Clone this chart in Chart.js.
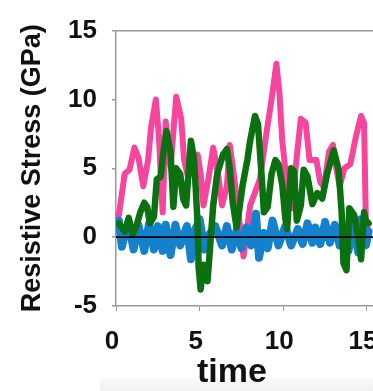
<!doctype html>
<html lang="en">
  <head>
    <meta charset="utf-8">
    <title>Resistive Stress vs time</title>
    <script src="https://cdn.jsdelivr.net/npm/chart.js"></script>
    <style>
      body { margin: 0; background: #fff; overflow: hidden; }
      .wrap { position: relative; width: 373px; height: 391px; overflow: hidden; }
      .wrap canvas { position: absolute; left: 0; top: 0; }
      .x-title { position: absolute; left: 232px; top: 370px; transform: translate(-50%, -50%); font: bold 34px "Liberation Sans", Arial, sans-serif; color: #111; }
      .floor { position: absolute; left: 100px; top: 378px; width: 273px; height: 13px; background: linear-gradient(#fafafa, #f0f0f0); }
    </style>
  </head>
  <body>
    <div class="wrap">
      <div class="floor"></div>
      <canvas id="stressChart" width="480" height="391"></canvas>
      <div class="x-title">time</div>
    </div>
    <script>
      // values (time, GPa)
      const pinkT = [0.06, 0.17, 0.52, 0.81, 1.10, 1.34, 1.63, 1.92, 2.09, 2.38, 2.56, 2.79, 2.97, 3.26, 3.60, 3.90, 4.07, 4.30, 4.65, 4.88, 5.06, 5.23, 5.52, 5.81, 6.10, 6.34, 6.63, 6.80, 6.98, 7.27, 7.62, 8.02, 8.60, 9.01, 9.30, 9.59, 9.77, 9.94, 10.23, 10.52, 10.76, 11.05, 11.34, 11.57, 11.98, 12.21, 12.44, 12.73, 12.97, 13.14, 13.37, 13.66, 14.01, 14.36, 14.65, 14.83, 14.94, 15.1];
      const pinkV = [1.2, 1.6, 4.6, 4.9, 6.5, 5.8, 3.7, 5.6, 7.9, 10.0, 7.4, 1.8, 8.4, 5.1, 10.2, 8.6, 5.6, 4.4, 5.1, 6.0, 4.6, 2.3, 4.2, 6.5, 4.6, 2.3, 3.7, 6.7, 5.1, 2.3, -1.4, 2.3, 4.2, 7.7, 10.0, 12.6, 10.5, 7.0, 3.7, 2.1, 5.3, 8.6, 8.3, 5.6, 5.6, 4.0, 3.6, 6.2, 6.7, 5.2, 3.7, 5.0, 5.3, 7.4, 8.8, 8.3, 1.0, 0.5];

      const greenT = [0.17, 0.52, 0.76, 0.99, 1.22, 1.45, 1.69, 1.86, 2.03, 2.27, 2.44, 2.67, 2.85, 3.02, 3.26, 3.43, 3.60, 3.84, 4.01, 4.19, 4.48, 4.65, 4.77, 4.88, 4.94, 5.06, 5.23, 5.47, 5.64, 5.81, 6.05, 6.40, 6.63, 6.80, 6.98, 7.21, 7.38, 7.56, 7.85, 8.02, 8.31, 8.49, 8.72, 8.84, 9.07, 9.30, 9.53, 9.71, 9.94, 10.12, 10.23, 10.47, 10.64, 10.81, 11.05, 11.22, 11.45, 11.74, 12.03, 12.33, 12.62, 13.02, 13.31, 13.49, 13.60, 13.78, 13.95, 14.24, 14.48, 14.65, 14.83, 14.94, 15.1];
      const greenV = [1.0, 0.4, 1.4, 0.2, 0.8, 1.8, 2.5, 2.2, 1.0, 1.5, 4.2, 4.4, 6.3, 7.7, 6.2, 2.2, 5.0, 4.6, 2.8, 2.3, 7.0, 5.8, 3.5, 0.9, -2.2, -3.8, -2.0, -3.2, -0.5, 2.3, 4.6, 6.0, 6.4, 5.0, 2.5, 0.7, 2.1, 3.7, 5.6, 7.0, 8.8, 8.2, 4.2, 1.8, 2.2, 4.6, 5.6, 5.3, 3.8, 1.4, 0.6, 5.0, 4.8, 1.2, 2.3, 4.9, 4.4, 2.4, 3.2, 2.8, 4.6, 6.3, 4.9, 1.8, -1.9, -2.4, 2.1, 1.6, 0.0, -1.6, 1.8, 1.2, 1.0];

      const blueT = [0, 0.17, 0.35, 0.58, 0.76, 1.05, 1.34, 1.69, 1.98, 2.27, 2.50, 2.79, 2.97, 3.26, 3.55, 3.84, 4.24, 4.48, 4.71, 5.00, 5.29, 5.58, 5.93, 6.34, 6.63, 6.92, 7.21, 7.50, 7.79, 8.08, 8.37, 8.55, 8.84, 9.07, 9.36, 9.71, 10.12, 10.47, 10.87, 11.16, 11.45, 11.74, 11.92, 12.21, 12.50, 12.79, 13.08, 13.37, 13.66, 13.90, 14.19, 14.48, 14.65, 14.94, 15.1];
      const blueV = [1.0, 1.2, -0.7, 0.5, 1.0, -0.9, 0.9, -1.0, 1.0, -0.9, 0.8, -1.0, 0.9, -1.3, 0.9, -0.6, 0.8, -1.6, 0.5, 1.3, -0.9, 0.2, 0.8, -0.6, 0.8, -0.9, 0.5, -0.8, 0.7, -0.6, 1.7, -1.5, 0.3, -0.8, 1.2, -0.6, 0.8, -0.6, 0.6, -0.5, 1.0, -0.4, 0.7, -0.5, 1.1, -0.4, 0.9, -0.6, 0.8, -1.0, 1.1, -1.1, 1.3, -0.6, 0.4];

      const yTicks = [-5, 0, 5, 10, 15];
      const xTicks = [0, 5, 10, 15, 20];

      function pts(t, v) { return t.map((x, i) => ({ x: x, y: v[i] })); }

      Chart.defaults.font.family = '"Liberation Sans", Arial, sans-serif';
      Chart.defaults.color = '#111';

      new Chart(document.getElementById('stressChart'), {
        type: 'line',
        data: {
          datasets: [
            { label: 'zero', data: [{ x: xTicks[0], y: 0 }, { x: xTicks[xTicks.length - 1], y: 0 }], borderColor: '#000', borderWidth: 1.8, order: 0 },
            { label: 'green', data: pts(greenT, greenV), borderColor: '#0b7010', borderWidth: 6.5, order: 1 },
            { label: 'blue', data: pts(blueT, blueV), borderColor: '#1580cc', borderWidth: 8, order: 2 },
            { label: 'pink', data: pts(pinkT, pinkV), borderColor: '#f7449c', borderWidth: 6, order: 3 }
          ]
        },
        options: {
          responsive: false,
          animation: false,
          layout: { padding: { top: 19, right: 20, left: 0, bottom: 0 } },
          elements: {
            point: { radius: 0 },
            line: { tension: 0, borderJoinStyle: 'round', borderCapStyle: 'round', fill: false }
          },
          plugins: { legend: { display: false }, tooltip: { enabled: false } },
          scales: {
            x: {
              type: 'linear', min: xTicks[0], max: xTicks[xTicks.length - 1],
              afterBuildTicks: s => { s.ticks = xTicks.map(v => ({ value: v })); },
              afterFit: s => { s.height = 85; },
              border: { color: '#999', width: 1.5 },
              grid: { drawOnChartArea: false, tickLength: 5, tickColor: '#999' },
              ticks: { font: { size: 26, weight: 'bold' }, padding: 15, labelOffset: -4, maxRotation: 0 }
            },
            y: {
              min: yTicks[0], max: yTicks[yTicks.length - 1],
              afterBuildTicks: s => { s.ticks = yTicks.map(v => ({ value: v })); },
              afterFit: s => { s.width = 116; },
              border: { color: '#999', width: 1.5 },
              grid: { color: c => (c.tick && c.tick.value === 15) ? '#999' : 'transparent', lineWidth: 1.5, tickLength: 4, tickColor: '#999' },
              ticks: { font: { size: 26, weight: 'bold' }, padding: 15 },
              title: { display: true, text: 'Resistive Stress (GPa)', font: { size: 27, weight: 'bold' }, padding: { top: 16, bottom: 0 } }
            }
          }
        }
      });
    </script>
  </body>
</html>
